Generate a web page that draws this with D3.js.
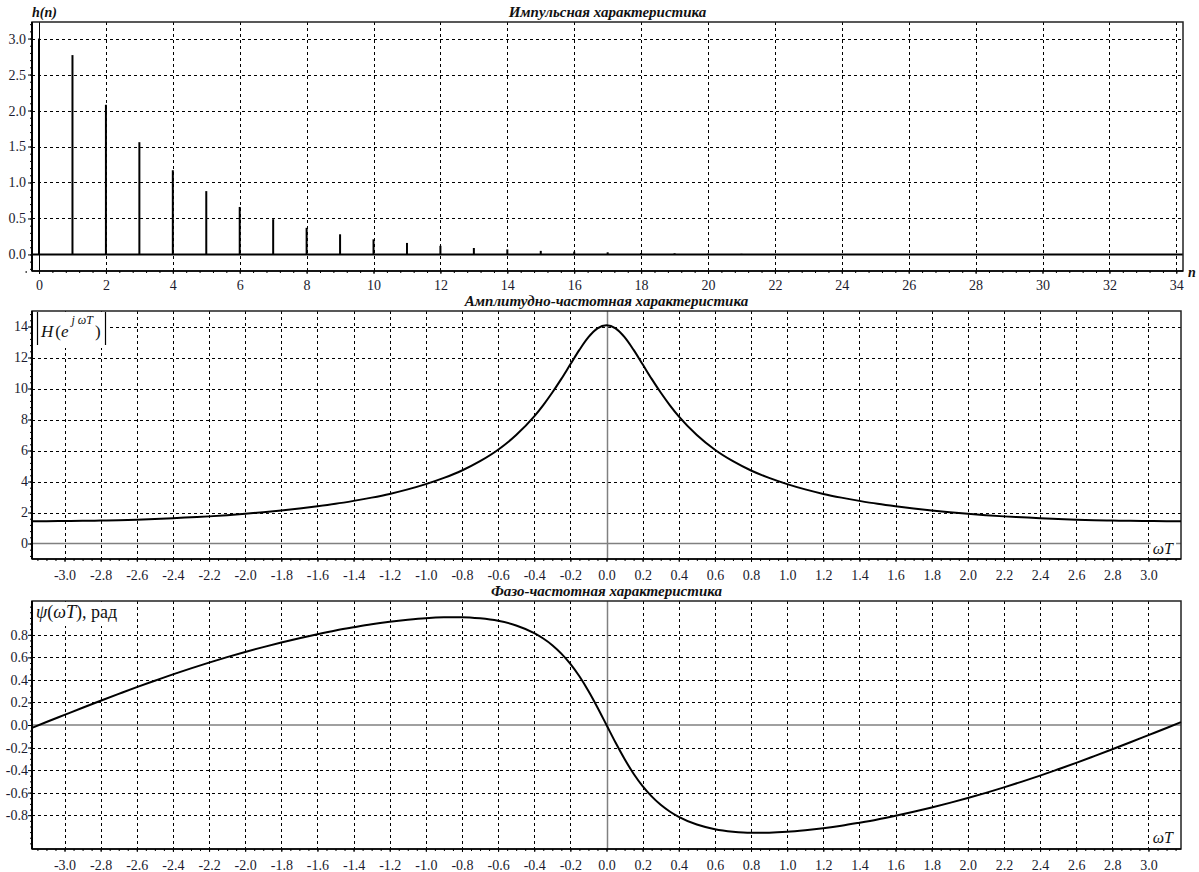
<!DOCTYPE html>
<html><head><meta charset="utf-8">
<script src="https://cdn.jsdelivr.net/npm/d3@7"></script>
<style>
body{margin:0;background:#fff}
svg{display:block}
text{font-family:"Liberation Serif","DejaVu Serif",serif}
</style>
</head><body>
<svg id="c" width="1199" height="872"></svg>
<script>
// ---------------- data ----------------
const stemN = [0,1,2,3,4,5,6,7,8,9,10,11,12,13,14,15,16,17,18,19,20,21,22,23,24,25,26,27,28,29,30,31,32,33,34];
const stemH = [3.0,2.77,2.08,1.56,1.17,0.88,0.66,0.49,0.37,0.28,0.21,0.16,0.12,0.09,0.07,0.05,0.04,0.03,0.02,0.016,0.012,0.009,0.007,0.005,0.004,0.003,0.002,0.002,0.001,0.001,0.001,0,0,0,0];

const omega = [-3.18,-3.1,-3.0,-2.9,-2.8,-2.7,-2.6,-2.5,-2.4,-2.3,-2.2,-2.1,-2.0,-1.9,-1.8,-1.7,-1.6,-1.5,-1.4,-1.3,-1.2,-1.1,-1.0,-0.9,-0.8,-0.7,-0.6,-0.5,-0.4,-0.35,-0.3,-0.25,-0.2,-0.15,-0.1,-0.05,
  0,
  0.05,0.1,0.15,0.2,0.25,0.3,0.35,0.4,0.5,0.6,0.7,0.8,0.9,1.0,1.1,1.2,1.3,1.4,1.5,1.6,1.7,1.8,1.9,2.0,2.1,2.2,2.3,2.4,2.5,2.6,2.7,2.8,2.9,3.0,3.1,3.18];
const amplitude = [1.44,1.44,1.45,1.46,1.48,1.50,1.53,1.58,1.63,1.69,1.75,1.83,1.92,2.02,2.13,2.26,2.40,2.56,2.75,2.96,3.20,3.49,3.83,4.23,4.71,5.31,6.05,7.00,8.20,8.93,9.74,10.62,11.56,12.49,13.31,13.88,
  14.08,
  13.88,13.31,12.49,11.56,10.62,9.74,8.93,8.20,7.00,6.05,5.31,4.71,4.23,3.83,3.49,3.20,2.96,2.75,2.56,2.40,2.26,2.13,2.02,1.92,1.83,1.75,1.69,1.63,1.58,1.53,1.50,1.48,1.46,1.45,1.44,1.44];
const phase = [-0.025,0.027,0.090,0.153,0.215,0.276,0.336,0.393,0.449,0.502,0.553,0.602,0.648,0.691,0.732,0.770,0.805,0.838,0.867,0.894,0.916,0.934,0.948,0.955,0.956,0.946,0.924,0.883,0.815,0.767,0.708,0.633,0.542,0.432,0.302,0.156,
  0,
  -0.156,-0.302,-0.432,-0.542,-0.633,-0.708,-0.767,-0.815,-0.883,-0.924,-0.946,-0.956,-0.955,-0.948,-0.934,-0.916,-0.894,-0.867,-0.838,-0.805,-0.770,-0.732,-0.691,-0.648,-0.602,-0.553,-0.502,-0.449,-0.393,-0.336,-0.276,-0.215,-0.153,-0.090,-0.027,0.025];

const nTicks = [0,2,4,6,8,10,12,14,16,18,20,22,24,26,28,30,32,34];
const hTicks = [0.0,0.5,1.0,1.5,2.0,2.5,3.0];
const wTicks = [-3.0,-2.8,-2.6,-2.4,-2.2,-2.0,-1.8,-1.6,-1.4,-1.2,-1.0,-0.8,-0.6,-0.4,-0.2,0.0,0.2,0.4,0.6,0.8,1.0,1.2,1.4,1.6,1.8,2.0,2.2,2.4,2.6,2.8,3.0];
const ampTicks = [0,2,4,6,8,10,12,14];
const phTicks = [-0.8,-0.6,-0.4,-0.2,0.0,0.2,0.4,0.6,0.8];
const titles = ["Импульсная характеристика","Амплитудно-частотная характеристика","Фазо-частотная характеристика"];

// ---------------- drawing ----------------
const svg = d3.select("#c");
const crisp = v => Math.round(v) + 0.5;
const INK = "#111";
const fmt = s => { const f = d3.format(s); return d => f(d).replace("\u2212","-"); };

function panel(cfg){
  const g = svg.append("g");
  const x = d3.scaleLinear().domain(cfg.xDomain).range(cfg.xRange);
  const y = d3.scaleLinear().domain(cfg.yDomain).range(cfg.yRange);
  const L = cfg.xRange[0], R = cfg.xRange[1], B = cfg.yRange[0], T = cfg.yRange[1];

  // title
  g.append("text").attr("x", (L+R)/2).attr("y", T-5).attr("text-anchor","middle")
    .attr("font-size",15).attr("font-weight","bold").attr("font-style","italic").attr("fill",INK).text(cfg.title);

  // grid
  const grid = g.append("g").attr("stroke","#000").attr("stroke-width",1).attr("stroke-dasharray","3,3");
  grid.selectAll("line.v").data(cfg.xGrid).join("line").attr("class","v")
    .attr("x1",d=>crisp(x(d))).attr("x2",d=>crisp(x(d))).attr("y1",T).attr("y2",B);
  grid.selectAll("line.h").data(cfg.yGrid).join("line").attr("class","h")
    .attr("x1",L).attr("x2",R).attr("y1",d=>crisp(y(d))).attr("y2",d=>crisp(y(d)));

  // zero lines
  g.append("line").attr("x1",L).attr("x2",R).attr("y1",y(0)).attr("y2",y(0))
    .attr("stroke",cfg.zeroColor).attr("stroke-width",cfg.zeroHW);
  g.append("line").attr("x1",crisp(x(0))).attr("x2",crisp(x(0))).attr("y1",T).attr("y2",B)
    .attr("stroke",cfg.zeroColor).attr("stroke-width",cfg.zeroVW);

  // frame
  g.append("rect").attr("x",L).attr("y",T).attr("width",R-L).attr("height",B-T)
    .attr("fill","none").attr("stroke","#222").attr("stroke-width",1.5);

  // axes: major
  const ax = d3.axisBottom(x).tickValues(cfg.xTicks).tickSize(3).tickPadding(cfg.xPad).tickFormat(cfg.xFmt);
  const ay = d3.axisLeft(y).tickValues(cfg.yTicks).tickSize(4).tickPadding(cfg.yPad).tickFormat(cfg.yFmt);
  const gx = g.append("g").attr("transform",`translate(0,${B})`).call(ax);
  const gy = g.append("g").attr("transform",`translate(${L},0)`).call(ay);
  // minor
  const axm = d3.axisBottom(x).tickValues(cfg.xMinor).tickSize(2).tickFormat("");
  const aym = d3.axisLeft(y).tickValues(cfg.yMinor).tickSize(2).tickFormat("");
  const gxm = g.append("g").attr("transform",`translate(0,${B})`).call(axm);
  const gym = g.append("g").attr("transform",`translate(${L},0)`).call(aym);
  [gx,gy,gxm,gym].forEach(a=>{
    a.attr("font-family",null).attr("font-size",null);
    a.select(".domain").remove();
    a.selectAll("line").attr("stroke","#000");
    a.selectAll("text").style("font-family","'Liberation Serif','DejaVu Serif',serif").style("font-size","14px").attr("fill","#1a1a2e");
  });
  gx.selectAll("text").attr("dy","0.71em");

  // left/bottom axis lines
  g.append("line").attr("x1",L).attr("x2",L).attr("y1",T).attr("y2",B).attr("stroke","#000").attr("stroke-width",2);
  g.append("line").attr("x1",L).attr("x2",R).attr("y1",B).attr("y2",B).attr("stroke","#000").attr("stroke-width",1.5);

  return {g,x,y,L,R,T,B};
}

function minorRange(a,b,s){ const out=[]; for(let v=a; v<=b+1e-9; v+=s) out.push(+v.toFixed(4)); return out; }

// Panel 1 : impulse response
const p1 = panel({
  title: titles[0],
  xDomain:[-0.21,34.2], xRange:[32,1183],
  yDomain:[-0.23,3.23], yRange:[271,22],
  xGrid: nTicks.filter(d=>d!==0), yGrid: hTicks.filter(d=>d!==0),
  xTicks: nTicks, yTicks: hTicks,
  xMinor: minorRange(-0.4,34,0.4), yMinor: minorRange(-0.2,3.2,0.1),
  xFmt: fmt("d"), yFmt: fmt(".1f"),
  xPad: 6, yPad: 2,
  zeroColor:"#000", zeroHW:2, zeroVW:1
});
p1.g.append("g").selectAll("line").data(stemN.map((n,i)=>({n,h:stemH[i]})).filter(d=>d.h>0)).join("line")
  .attr("x1",d=>p1.x(d.n)).attr("x2",d=>p1.x(d.n))
  .attr("y1",p1.y(0)).attr("y2",d=>p1.y(d.h))
  .attr("stroke","#000").attr("stroke-width",2);
p1.g.append("text").attr("x",p1.L).attr("y",17).attr("font-size",14).attr("font-weight","bold").attr("font-style","italic").attr("fill",INK).text("h(n)");
p1.g.append("text").attr("x",1188).attr("y",277).attr("font-size",14).attr("font-weight","bold").attr("font-style","italic").attr("fill",INK).text("n");

// Panel 2 : amplitude response
const p2 = panel({
  title: titles[1],
  xDomain:[-3.18,3.18], xRange:[32,1181],
  yDomain:[-1,15], yRange:[559,311],
  xGrid: wTicks.filter(d=>d!==0), yGrid: ampTicks.filter(d=>d!==0),
  xTicks: wTicks, yTicks: ampTicks,
  xMinor: minorRange(-3.15,3.15,0.05), yMinor: minorRange(-0.8,14.8,0.4),
  xFmt: fmt(".1f"), yFmt: fmt("d"),
  xPad: 8, yPad: 0,
  zeroColor:"#808080", zeroHW:1.5, zeroVW:1.5
});
p2.g.append("path").datum(omega.map((w,i)=>[w,amplitude[i]]))
  .attr("d", d3.line().x(d=>p2.x(d[0])).y(d=>p2.y(d[1])).curve(d3.curveMonotoneX))
  .attr("fill","none").attr("stroke","#000").attr("stroke-width",2);

// Panel 3 : phase response
const p3 = panel({
  title: titles[2],
  xDomain:[-3.18,3.18], xRange:[32,1181],
  yDomain:[-1.1,1.1], yRange:[849,601],
  xGrid: wTicks.filter(d=>d!==0), yGrid: phTicks.filter(d=>d!==0),
  xTicks: wTicks, yTicks: phTicks,
  xMinor: minorRange(-3.15,3.15,0.05), yMinor: minorRange(-1.05,1.05,0.05),
  xFmt: fmt(".1f"), yFmt: fmt(".1f"),
  xPad: 8, yPad: 0,
  zeroColor:"#808080", zeroHW:1.5, zeroVW:1.5
});
p3.g.append("path").datum(omega.map((w,i)=>[w,phase[i]]))
  .attr("d", d3.line().x(d=>p3.x(d[0])).y(d=>p3.y(d[1])).curve(d3.curveMonotoneX))
  .attr("fill","none").attr("stroke","#000").attr("stroke-width",2);

// ---- in-plot labels ----
// |H(e^{jωT})|
{
  const gL = p2.g.append("g");
  const bg = gL.append("rect").attr("fill","#fff");
  const t = gL.append("text").attr("x",41).attr("y",337).attr("font-size",17).attr("fill",INK);
  t.append("tspan").attr("font-style","italic").text("H");
  t.append("tspan").attr("dx",2).text("(");
  t.append("tspan").attr("font-style","italic").text("e");
  t.append("tspan").attr("font-style","italic").attr("font-size",12).attr("dy",-13).attr("dx",3).text("j ωT");
  t.append("tspan").attr("dy",13).attr("dx",2).text(")");
  const bb = t.node().getBBox();
  const xr = bb.x + bb.width + 4;
  bg.attr("x",33).attr("y",312).attr("width",xr-33+3).attr("height",36);
  gL.append("line").attr("x1",37.5).attr("x2",37.5).attr("y1",312).attr("y2",345).attr("stroke","#000").attr("stroke-width",1.2);
  gL.append("line").attr("x1",Math.round(xr)+0.5).attr("x2",Math.round(xr)+0.5).attr("y1",312).attr("y2",345).attr("stroke","#000").attr("stroke-width",1.2);
}
// ψ(ωT), рад
{
  const gL = p3.g.append("g");
  const bg = gL.append("rect").attr("fill","#fff");
  const t = gL.append("text").attr("x",36).attr("y",618).attr("font-size",18).attr("fill",INK);
  t.append("tspan").attr("font-style","italic").text("ψ");
  t.append("tspan").text("(");
  t.append("tspan").attr("font-style","italic").text("ωT");
  t.append("tspan").text("), рад");
  const bb = t.node().getBBox();
  bg.attr("x",33).attr("y",602).attr("width",bb.width+6).attr("height",24);
}
// ωT axis labels
[[p2,554],[p3,843]].forEach(([p,yy])=>{
  const gL = p.g.append("g");
  const bg = gL.append("rect").attr("fill","#fff");
  const t = gL.append("text").attr("x",1173).attr("y",yy).attr("text-anchor","end").attr("font-size",16).attr("font-style","italic").attr("fill",INK).text("ωT");
  const bb = t.node().getBBox();
  bg.attr("x",bb.x-2).attr("y",bb.y+2).attr("width",bb.width+4).attr("height",bb.height-4);
});
</script>
</body></html>
